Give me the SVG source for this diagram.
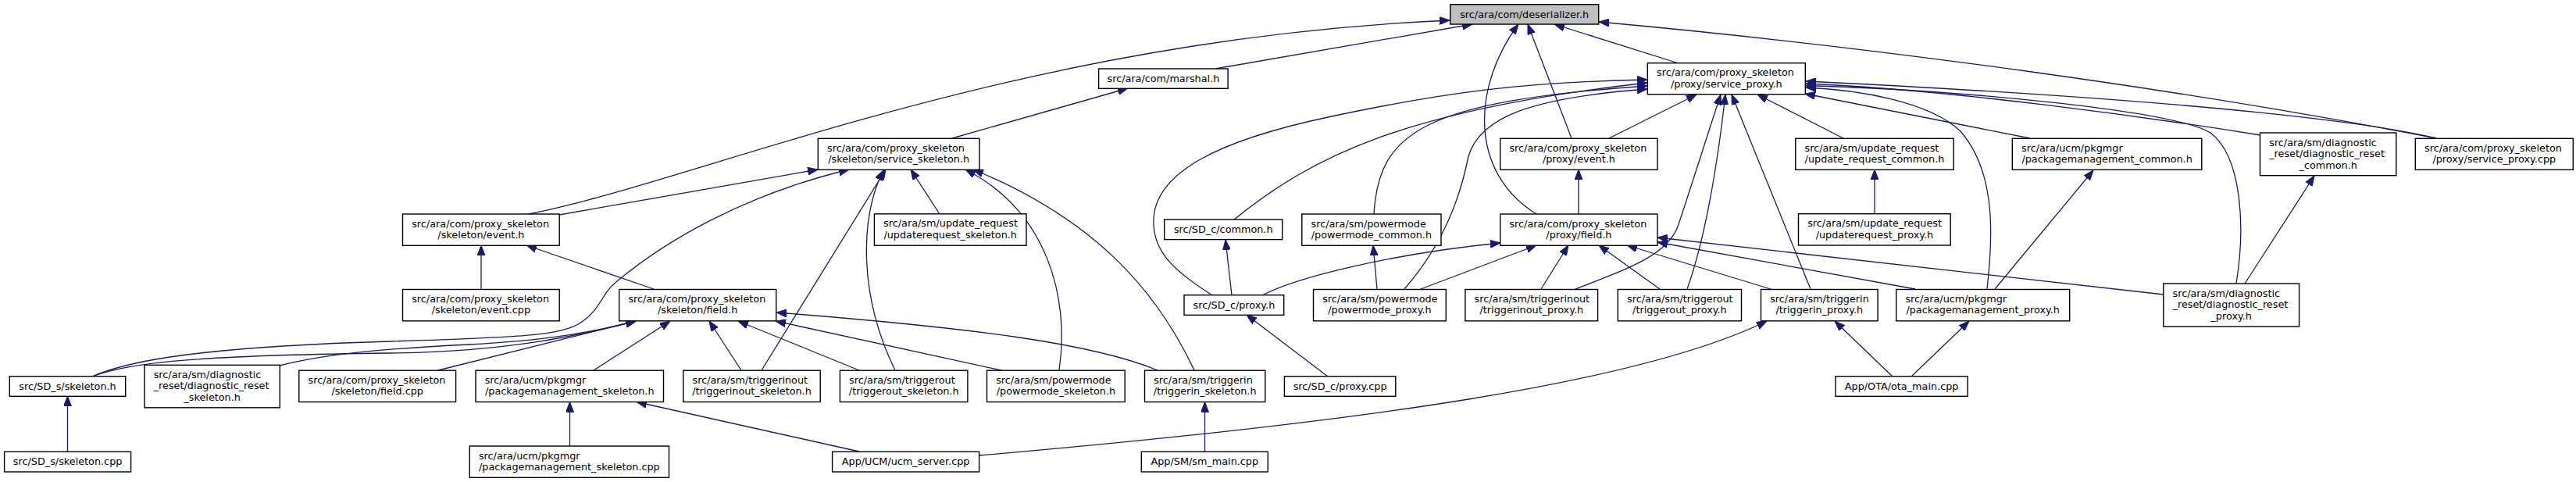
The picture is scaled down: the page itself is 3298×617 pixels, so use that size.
<svg xmlns="http://www.w3.org/2000/svg" width="3298" height="617" viewBox="0 0 3298 617">
<style>
.n rect{fill:#fff;stroke:#000;stroke-width:1.4}
.n text{font-family:"DejaVu Sans",sans-serif;font-size:12.8px;fill:#000}
.n text.c{text-anchor:middle}
#e path{fill:none;stroke:#191970;stroke-width:1.3;marker-end:url(#a)}
</style>
<defs>
<marker id="a" viewBox="0 0 13 10" refX="13" refY="5" markerWidth="13" markerHeight="10" markerUnits="userSpaceOnUse" orient="auto">
<path d="M0,0 L13,5 L0,10 z" fill="#191970" stroke="#191970" stroke-width="1"/>
</marker>
</defs>
<rect width="3298" height="617" fill="#fff"/>
<g id="e">
<path d="M677,274 C900,230 1300,50 1856,26"/>
<path d="M1556,88 L1885,31"/>
<path d="M1967,274 C1880,220 1885,110 1944,31"/>
<path d="M2012,177 L1956,31"/>
<path d="M2149,81 L1990,31"/>
<path d="M3119,177 C2800,115 2400,60 2047,28"/>
<path d="M1219,177 L1444,113"/>
<path d="M716,275 L1047,217"/>
<path d="M118,482 C150,468 220,445 500,437 C660,432 720,430 745,412 C770,395 770,375 790,360 C850,310 950,250 1087,217"/>
<path d="M975,474 L1134,217"/>
<path d="M1146,474 C1100,380 1100,280 1131,218"/>
<path d="M1203,274 L1166,217"/>
<path d="M1356,474 C1370,380 1340,270 1236,217"/>
<path d="M1529,474 C1480,370 1400,280 1246,217"/>
<path d="M616,370 L616,314"/>
<path d="M837,370 L674,314"/>
<path d="M118,482 C160,466 230,455 500,452 C650,450 740,430 814,411"/>
<path d="M358,468 C420,452 500,446 600,441 C700,436 760,425 814,411"/>
<path d="M561,474 L814,411"/>
<path d="M760,474 L858,411"/>
<path d="M949,474 L908,411"/>
<path d="M1100,474 L945,411"/>
<path d="M1282,474 L993,411"/>
<path d="M1482,474 C1400,440 1250,420 994,400"/>
<path d="M86.5,578 L86.5,507"/>
<path d="M729.5,571 L729.5,514.5"/>
<path d="M1100,578 L815,514.5"/>
<path d="M1542.5,578 L1542.5,514.5"/>
<path d="M2060,177 L2172,121"/>
<path d="M1552,378 C1500,345 1475,320 1477,280 C1480,220 1560,180 1700,150 C1850,118 1950,105 2109,102"/>
<path d="M1580,281 C1680,200 1800,140 2109,106"/>
<path d="M1759,274 C1765,170 1820,130 2109,110"/>
<path d="M1798,370 C1850,310 1870,250 1880,200 C1895,150 1960,125 2109,114"/>
<path d="M1577,378 L1569,307"/>
<path d="M1700,482 L1596,403"/>
<path d="M1763,370 L1758,314"/>
<path d="M2021,274 L2021,217"/>
<path d="M1616,378 C1660,355 1780,325 1921,311"/>
<path d="M1819,370 L1967,314"/>
<path d="M1973,370 L2008,314"/>
<path d="M2125,370 L2047,314"/>
<path d="M2267,370 L2083,314"/>
<path d="M2452,370 L2122,310"/>
<path d="M2770,377 L2122,304"/>
<path d="M2017,370 C2090,342 2135,325 2148,290 C2165,240 2190,160 2203,121"/>
<path d="M2160,370 C2185,300 2200,200 2209,121"/>
<path d="M2318,370 L2217,121"/>
<path d="M2360,177 L2250,121"/>
<path d="M2599,177 L2311,120"/>
<path d="M2544,370 C2552,300 2555,220 2510,168 C2470,130 2380,115 2312,112"/>
<path d="M3119,177 C3050,160 2850,130 2312,104"/>
<path d="M2894,173 C2750,150 2500,115 2312,107"/>
<path d="M2863,363 C2875,290 2870,200 2830,170 C2780,140 2500,115 2312,109.5"/>
<path d="M2554,370 L2680,218"/>
<path d="M2874,363 L2963,225"/>
<path d="M2400,274 L2400,217"/>
<path d="M2423,482 L2349,411"/>
<path d="M2447,482 L2521,411"/>
<path d="M1254,583 C1750,540 2100,490 2262,411"/>
</g>
<g id="n1" class="n"><rect x="1856.7" y="5.7" width="190" height="25.3" style="fill:#bfbfbf"/><text class="c" x="1951.7" y="22.7">src/ara/com/deserializer.h</text></g>
<g id="n2" class="n"><rect x="1406.6" y="88" width="165.5" height="25.3"/><text class="c" x="1489.4" y="105">src/ara/com/marshal.h</text></g>
<g id="n3" class="n"><rect x="1047.3" y="177.3" width="206.7" height="40"/><text x="1059" y="193.8">src/ara/com/proxy_skeleton</text><text class="c" x="1150.7" y="208.1">/skeleton/service_skeleton.h</text></g>
<g id="n4" class="n"><rect x="515.5" y="274" width="200.7" height="40.3"/><text x="527.2" y="290.5">src/ara/com/proxy_skeleton</text><text class="c" x="615.9" y="304.8">/skeleton/event.h</text></g>
<g id="n5" class="n"><rect x="2109.3" y="80.7" width="202" height="40"/><text x="2121" y="97.2">src/ara/com/proxy_skeleton</text><text class="c" x="2210.3" y="111.5">/proxy/service_proxy.h</text></g>
<g id="n6" class="n"><rect x="1920.7" y="177.3" width="201.3" height="40"/><text x="1932.4" y="193.8">src/ara/com/proxy_skeleton</text><text class="c" x="2021.4" y="208.1">/proxy/event.h</text></g>
<g id="n7" class="n"><rect x="1920.7" y="274" width="201.3" height="40.3"/><text x="1932.4" y="290.5">src/ara/com/proxy_skeleton</text><text class="c" x="2021.4" y="304.8">/proxy/field.h</text></g>
<g id="n8" class="n"><rect x="1119.4" y="273.8" width="194.6" height="40.4"/><text x="1131.1" y="290.3">src/ara/sm/update_request</text><text class="c" x="1216.7" y="304.6">/updaterequest_skeleton.h</text></g>
<g id="n9" class="n"><rect x="1490.7" y="281" width="151" height="25.6"/><text class="c" x="1566.2" y="298">src/SD_c/common.h</text></g>
<g id="n10" class="n"><rect x="1666.8" y="274" width="178.2" height="40.3"/><text x="1678.5" y="290.5">src/ara/sm/powermode</text><text class="c" x="1755.9" y="304.8">/powermode_common.h</text></g>
<g id="n11" class="n"><rect x="2298.8" y="177.3" width="202.4" height="40"/><text x="2310.5" y="193.8">src/ara/sm/update_request</text><text class="c" x="2400" y="208.1">/update_request_common.h</text></g>
<g id="n12" class="n"><rect x="2576.3" y="177.3" width="242.5" height="40"/><text x="2588" y="193.8">src/ara/ucm/pkgmgr</text><text class="c" x="2697.6" y="208.1">/packagemanagement_common.h</text></g>
<g id="n13" class="n"><rect x="2893.5" y="170" width="174.3" height="54.7"/><text x="2905.2" y="186.5">src/ara/sm/diagnostic</text><text x="2905.2" y="201">_reset/diagnostic_reset</text><text class="c" x="2980.7" y="215.5">_common.h</text></g>
<g id="n14" class="n"><rect x="3092.3" y="177.3" width="202" height="40"/><text x="3104" y="193.8">src/ara/com/proxy_skeleton</text><text class="c" x="3193.3" y="208.1">/proxy/service_proxy.cpp</text></g>
<g id="n15" class="n"><rect x="2302.5" y="273.7" width="194.7" height="40.3"/><text x="2314.2" y="290.2">src/ara/sm/update_request</text><text class="c" x="2399.9" y="304.5">/updaterequest_proxy.h</text></g>
<g id="n16" class="n"><rect x="515.5" y="370.5" width="200.7" height="40.3"/><text x="527.2" y="387">src/ara/com/proxy_skeleton</text><text class="c" x="615.9" y="401.3">/skeleton/event.cpp</text></g>
<g id="n17" class="n"><rect x="792.7" y="370.5" width="201" height="40.3"/><text x="804.4" y="387">src/ara/com/proxy_skeleton</text><text class="c" x="893.2" y="401.3">/skeleton/field.h</text></g>
<g id="n18" class="n"><rect x="12.3" y="481.7" width="148.4" height="25.6"/><text class="c" x="86.5" y="498.7">src/SD_s/skeleton.h</text></g>
<g id="n19" class="n"><rect x="185" y="467.3" width="173.3" height="54.5"/><text x="196.7" y="483.8">src/ara/sm/diagnostic</text><text x="196.7" y="498.3">_reset/diagnostic_reset</text><text class="c" x="271.7" y="512.8">_skeleton.h</text></g>
<g id="n20" class="n"><rect x="382.8" y="474.2" width="200.8" height="40.3"/><text x="394.5" y="490.7">src/ara/com/proxy_skeleton</text><text class="c" x="483.2" y="505">/skeleton/field.cpp</text></g>
<g id="n21" class="n"><rect x="609" y="474.2" width="240.5" height="40.3"/><text x="620.7" y="490.7">src/ara/ucm/pkgmgr</text><text class="c" x="729.3" y="505">/packagemanagement_skeleton.h</text></g>
<g id="n22" class="n"><rect x="874.8" y="474.2" width="175.4" height="40.3"/><text x="886.5" y="490.7">src/ara/sm/triggerinout</text><text class="c" x="962.5" y="505">/triggerinout_skeleton.h</text></g>
<g id="n23" class="n"><rect x="1075.4" y="474.2" width="163.5" height="40.3"/><text x="1087.1" y="490.7">src/ara/sm/triggerout</text><text class="c" x="1157.2" y="505">/triggerout_skeleton.h</text></g>
<g id="n24" class="n"><rect x="1263.5" y="474.2" width="176.7" height="40.3"/><text x="1275.2" y="490.7">src/ara/sm/powermode</text><text class="c" x="1351.9" y="505">/powermode_skeleton.h</text></g>
<g id="n25" class="n"><rect x="1465.5" y="474.2" width="154.3" height="40.3"/><text x="1477.2" y="490.7">src/ara/sm/triggerin</text><text class="c" x="1542.7" y="505">/triggerin_skeleton.h</text></g>
<g id="n26" class="n"><rect x="5.6" y="578.3" width="162" height="25.7"/><text class="c" x="86.6" y="595.3">src/SD_s/skeleton.cpp</text></g>
<g id="n27" class="n"><rect x="601.2" y="571" width="255.3" height="40.3"/><text x="612.9" y="587.5">src/ara/ucm/pkgmgr</text><text class="c" x="728.9" y="601.8">/packagemanagement_skeleton.cpp</text></g>
<g id="n28" class="n"><rect x="1065.6" y="578.3" width="188" height="25.7"/><text class="c" x="1159.6" y="595.3">App/UCM/ucm_server.cpp</text></g>
<g id="n29" class="n"><rect x="1461.3" y="578.3" width="162" height="25.7"/><text class="c" x="1542.3" y="595.3">App/SM/sm_main.cpp</text></g>
<g id="n30" class="n"><rect x="1644.4" y="481.7" width="142.4" height="25.6"/><text class="c" x="1715.6" y="498.7">src/SD_c/proxy.cpp</text></g>
<g id="n31" class="n"><rect x="1516" y="377.7" width="127.7" height="25.6"/><text class="c" x="1579.9" y="394.7">src/SD_c/proxy.h</text></g>
<g id="n32" class="n"><rect x="1681.5" y="370.5" width="169.8" height="40.3"/><text x="1693.2" y="387">src/ara/sm/powermode</text><text class="c" x="1766.4" y="401.3">/powermode_proxy.h</text></g>
<g id="n33" class="n"><rect x="1875.9" y="370.5" width="169.7" height="40.3"/><text x="1887.6" y="387">src/ara/sm/triggerinout</text><text class="c" x="1960.8" y="401.3">/triggerinout_proxy.h</text></g>
<g id="n34" class="n"><rect x="2071.3" y="370.5" width="158.2" height="40.3"/><text x="2083" y="387">src/ara/sm/triggerout</text><text class="c" x="2150.4" y="401.3">/triggerout_proxy.h</text></g>
<g id="n35" class="n"><rect x="2254.5" y="370.5" width="149.6" height="40.3"/><text x="2266.2" y="387">src/ara/sm/triggerin</text><text class="c" x="2329.3" y="401.3">/triggerin_proxy.h</text></g>
<g id="n36" class="n"><rect x="2427.7" y="370.5" width="222" height="40.3"/><text x="2439.4" y="387">src/ara/ucm/pkgmgr</text><text class="c" x="2538.7" y="401.3">/packagemanagement_proxy.h</text></g>
<g id="n37" class="n"><rect x="2769.8" y="363" width="173.8" height="55"/><text x="2781.5" y="379.5">src/ara/sm/diagnostic</text><text x="2781.5" y="394">_reset/diagnostic_reset</text><text class="c" x="2856.7" y="408.5">_proxy.h</text></g>
<g id="n38" class="n"><rect x="2350" y="481.7" width="169.2" height="25.6"/><text class="c" x="2434.6" y="498.7">App/OTA/ota_main.cpp</text></g>
</svg>
